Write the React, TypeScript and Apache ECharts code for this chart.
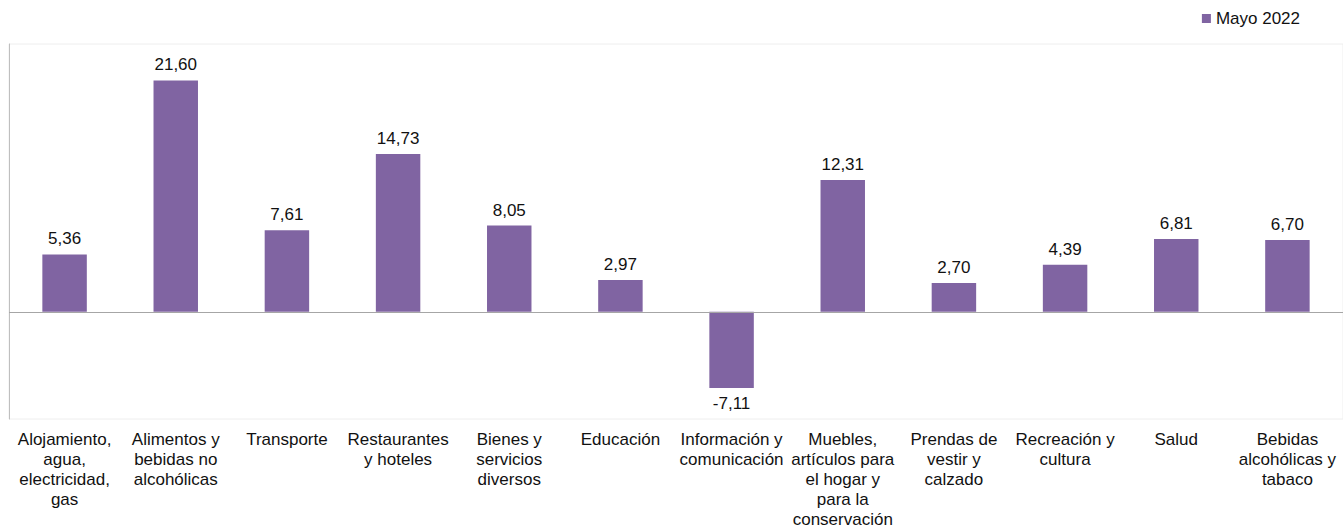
import React, { useEffect, useRef } from "react";
import * as echarts from "echarts";

const categories: string[] = [
  "Alojamiento,\nagua,\nelectricidad,\ngas",
  "Alimentos y\nbebidas no\nalcohólicas",
  "Transporte",
  "Restaurantes\ny hoteles",
  "Bienes y\nservicios\ndiversos",
  "Educación",
  "Información y\ncomunicación",
  "Muebles,\nartículos para\nel hogar y\npara la\nconservación",
  "Prendas de\nvestir y\ncalzado",
  "Recreación y\ncultura",
  "Salud",
  "Bebidas\nalcohólicas y\ntabaco",
];

const seriesName = "Mayo 2022";
const values: number[] = [5.36, 21.6, 7.61, 14.73, 8.05, 2.97, -7.11, 12.31, 2.7, 4.39, 6.81, 6.7];

const FONT = "'Liberation Sans', Arial, sans-serif";

export default function App() {
  const ref = useRef<HTMLDivElement>(null);
  useEffect(() => {
    if (!ref.current) return;
    const chart = echarts.init(ref.current, undefined, { renderer: "svg" });
    chart.setOption({
      animation: false,
      textStyle: { fontFamily: FONT },
      legend: {
        show: true,
        right: 43,
        top: 10,
        padding: 0,
        icon: "rect",
        itemWidth: 9,
        itemHeight: 9,
        textStyle: { fontSize: 17, color: "#111", fontFamily: FONT },
        data: [seriesName],
      },
      grid: {
        left: 9,
        right: 0,
        top: 44,
        height: 379,
        show: true,
        borderColor: "#eeeeee",
        borderWidth: 1,
        containLabel: false,
      },
      xAxis: {
        type: "category",
        data: categories,
        axisLine: { show: false, onZero: false },
        axisTick: { show: false },
        splitLine: { show: false },
        axisLabel: {
          interval: 0,
          fontSize: 17,
          lineHeight: 20,
          color: "#111",
          margin: 10,
          fontFamily: FONT,
        },
      },
      yAxis: {
        type: "value",
        min: -10,
        max: 25,
        interval: 5,
        axisLabel: { show: false },
        axisTick: { show: false },
        splitLine: { show: false },
        axisLine: { show: true, lineStyle: { color: "#bfbfbf", width: 1 } },
      },
      series: [
        {
          name: seriesName,
          type: "bar",
          barCategoryGap: "60%",
          itemStyle: { color: "#8064A2" },
          data: values.map((v) => ({
            value: v,
            label: { position: v < 0 ? "bottom" : "top" },
          })),
          label: {
            show: true,
            fontSize: 17,
            color: "#111",
            distance: 7,
            fontFamily: FONT,
            formatter: (p: any) => Number(p.value).toFixed(2).replace(".", ","),
          },
          markLine: {
            silent: true,
            symbol: "none",
            label: { show: false },
            lineStyle: { color: "#a6a6a6", type: "solid", width: 1 },
            data: [{ yAxis: 0 }],
          },
        },
      ],
    });
    return () => chart.dispose();
  }, []);
  return (
    <div
      ref={ref}
      style={{ position: "fixed", left: 0, top: 0, width: 1343, height: 529, background: "#fff" }}
    />
  );
}
